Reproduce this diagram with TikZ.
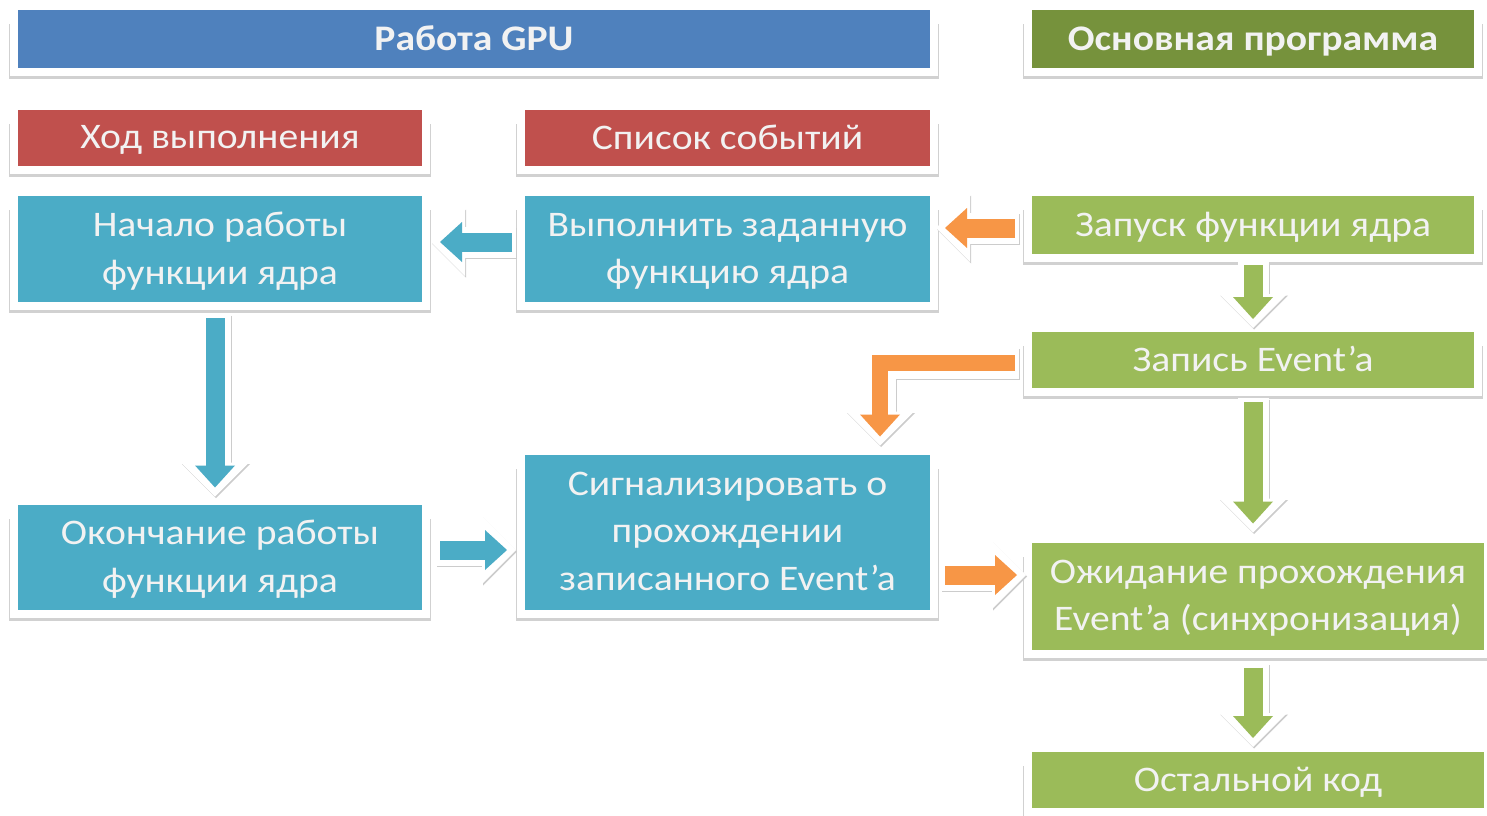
\documentclass[tikz,border=0pt]{standalone}
\usepackage{fontspec}
\setmainfont{Carlito}[FakeStretch=1.1]
\usetikzlibrary{arrows.meta,calc}
\pgfdeclarelayer{background}
\pgfsetlayers{background,main}
\definecolor{cBlue}{HTML}{4F81BD}
\definecolor{cOlive}{HTML}{76923C}
\definecolor{cRed}{HTML}{C0504D}
\definecolor{cTeal}{HTML}{4BACC6}
\definecolor{cGreen}{HTML}{9BBB59}
\definecolor{cOrange}{HTML}{F79646}
\tikzset{
  box/.style={rectangle, fill=#1, draw=white, line width=8pt, outer sep=0pt, inner sep=0pt,
    text depth=1.5pt, text=white!95!black, align=center, font=\fontsize{36}{47.5}\selectfont},
  head/.style={box=#1, font=\fontsize{36}{47.5}\selectfont\bfseries},
  boxshadow/.style={fill=black!18},
  blockarrow/.style={draw=#1, line width=19pt, -{Triangle[length=22pt,width=40pt,line width=0pt]},
    preaction={draw=black!20, line width=31pt, -{Triangle[length=34pt,width=68pt,line width=0pt]},
      shorten >=-9pt, shorten <=-4pt, transform canvas={shift={(1pt,-1.5pt)}}},
    preaction={draw=white, line width=31pt, -{Triangle[length=34pt,width=68pt,line width=0pt]},
      shorten >=-9pt, shorten <=-4pt}},
}
\begin{document}
\begin{tikzpicture}[x=1pt,y=-1pt]
\useasboundingbox (0,0) rectangle (1487,815);
\node[head=cBlue, minimum width=920pt, minimum height=66pt] (gpu) at (474,39) {Работа GPU};
\node[head=cOlive, minimum width=450pt, minimum height=66pt] (main) at (1253,39) {Основная программа};
\node[box=cRed, minimum width=412pt, minimum height=64pt] (hod) at (220,138) {Ход выполнения};
\node[box=cRed, minimum width=413pt, minimum height=64pt] (spisok) at (727.5,138) {Список событий};
\node[box=cTeal, minimum width=412pt, minimum height=114pt] (nach) at (220,249) {Начало работы\\функции ядра};
\node[box=cTeal, minimum width=413pt, minimum height=114pt] (vyp) at (727.5,249) {Выполнить заданную\\функцию ядра};
\node[box=cGreen, minimum width=450pt, minimum height=66pt] (zap) at (1253,225) {Запуск функции ядра};
\node[box=cGreen, minimum width=450pt, minimum height=64pt] (zapis) at (1253,360) {Запись Event’a};
\node[box=cTeal, minimum width=412pt, minimum height=113pt] (okon) at (220,557) {Окончание работы\\функции ядра};
\node[box=cTeal, minimum width=413pt, minimum height=163pt] (sig) at (727.5,532) {Сигнализировать о\\прохождении\\записанного Event’a};
\node[box=cGreen, minimum width=460pt, minimum height=115pt] (ozh) at (1258,596) {Ожидание прохождения\\Event’a (синхронизация)};
\node[box=cGreen, minimum width=460pt, minimum height=64pt] (ost) at (1258,780) {Остальной код};

\begin{pgfonlayer}{background}
\foreach \n in {gpu,main,hod,spisok,nach,vyp,zap,zapis,okon,sig,ozh,ost}
  \fill[boxshadow] ([xshift=-5pt,yshift=-7pt]\n.south west) rectangle ([xshift=5pt,yshift=-18pt]\n.north east);
\end{pgfonlayer}

\draw[blockarrow=cTeal] ([xshift=-9pt,yshift=7pt]vyp.west) -- ([xshift=14pt,yshift=7pt]vyp.west -| nach.east);
\draw[blockarrow=cOrange] ([xshift=-13pt,yshift=-3pt]zap.west) -- ([xshift=11pt,yshift=-3pt]zap.west -| vyp.east);
\draw[blockarrow=cGreen] ([yshift=-7pt]zap.south) -- ([yshift=9pt]zap.south |- zapis.north);
\draw[blockarrow=cGreen] ([yshift=-10pt]zapis.south) -- ([yshift=15pt]zapis.south |- ozh.north);
\draw[blockarrow=cGreen] ([xshift=-5pt,yshift=-14pt]ozh.south) -- ([xshift=-5pt,yshift=10pt]ozh.south |- ost.north);
\draw[blockarrow=cTeal] ([xshift=-5pt,yshift=-12pt]nach.south) -- ([xshift=-5pt,yshift=13pt]nach.south |- okon.north);
\draw[blockarrow=cTeal] ([xshift=14pt,yshift=7pt]okon.east) -- ([xshift=-14pt,yshift=7pt]okon.east -| sig.west);
\draw[blockarrow=cOrange] ([xshift=11pt,yshift=-43pt]sig.east) -- ([xshift=-11pt,yshift=-43pt]sig.east -| ozh.west);
\draw[blockarrow=cOrange, line width=16pt] ([xshift=-13pt,yshift=-3pt]zapis.west) -| ([xshift=152.5pt,yshift=14pt]sig.north);
\end{tikzpicture}
\end{document}
